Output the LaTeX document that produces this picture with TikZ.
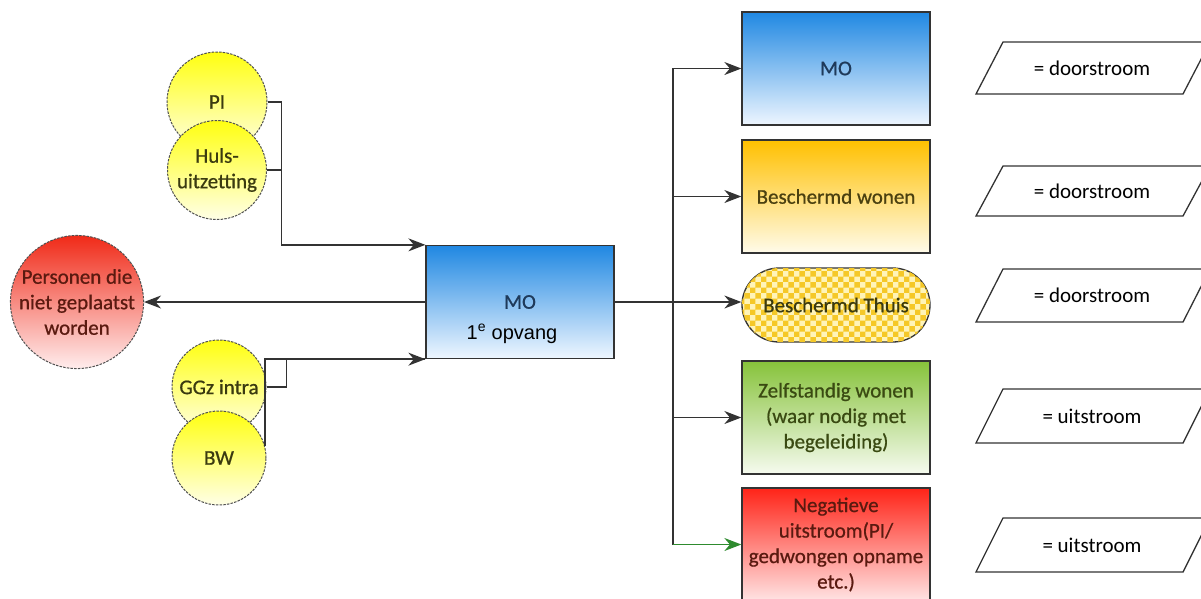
\documentclass[tikz,border=0pt]{standalone}
\usepackage{fontspec}
\setmainfont{Carlito}
\newfontfamily\heavyf{Carlito}[FakeBold=0.7]
\newfontfamily\arialf{Liberation Sans}
\usetikzlibrary{arrows.meta,patterns,calc}
\definecolor{linec}{HTML}{333333}
\definecolor{circline}{HTML}{505050}
\definecolor{bluetop}{HTML}{2088E2}
\definecolor{bluebot}{HTML}{EEF6FF}
\definecolor{goldtop}{HTML}{FFC000}
\definecolor{goldbot}{HTML}{FFFBEA}
\definecolor{greentop}{HTML}{86C23A}
\definecolor{greenbot}{HTML}{F6FBEF}
\definecolor{redtop}{HTML}{FF2418}
\definecolor{redbot}{HTML}{FFE4E4}
\definecolor{yeltop}{HTML}{FFFF10}
\definecolor{yelbot}{HTML}{FFFFE6}
\definecolor{rcirtop}{HTML}{F02A18}
\definecolor{rcirbot}{HTML}{FFEDED}
\definecolor{motext}{HTML}{1F3A5A}
\definecolor{goldtext}{HTML}{4A4010}
\definecolor{greentext}{HTML}{3A4A12}
\definecolor{redtext}{HTML}{5A1A10}
\definecolor{yeltext}{HTML}{3A3A10}
\definecolor{thuisfill}{HTML}{FFF4B8}
\definecolor{thuispat}{HTML}{F5C828}
\definecolor{greenline}{HTML}{2E8B2E}
\begin{document}
\begin{tikzpicture}[x=1pt,y=-1pt,
  base/.style={font=\fontsize{21}{25.5}\selectfont, align=center, inner sep=0pt},
  heavy/.style={font=\heavyf\fontsize{21}{25.5}\selectfont},
  box/.style={base, heavy, draw=linec, line width=1.3pt, minimum width=188pt, minimum height=113pt},
  sh/.style 2 args={top color=#1, middle color=#1!80!#2, bottom color=#2},
  circ/.style={base, heavy, circle, draw=circline, dash pattern=on 2.5pt off 1.2pt, line width=1pt},
  arr/.style={line width=1.5pt, draw=linec, -{Stealth[length=17pt,width=13pt]}},
  conn/.style={line width=1.5pt, draw=linec},
  para/.style={line width=1.3pt, draw=linec}]
\useasboundingbox (0,0) rectangle (1201,598);
\clip (0,0) rectangle (1201,598);

% left circles
\node[circ, sh={yeltop}{yelbot}, minimum size=100pt, text=yeltext] (PI) at (217,102) {PI};
\node[circ, sh={yeltop}{yelbot}, minimum size=99pt, text=yeltext] (Huls) at (217,170) {Huls-\\uitzetting};
\node[circ, sh={yeltop}{yelbot}, minimum size=94pt, text=yeltext] (GGz) at (219,387) {GGz intra};
\node[circ, sh={yeltop}{yelbot}, minimum size=94pt, text=yeltext] (BW) at (219,458) {BW};
\node[circ, sh={rcirtop}{rcirbot}, minimum size=132pt, text=redtext] (Pers) at (77,302) {Personen die\\niet geplaatst\\worden};

% central box
\node[box, sh={bluetop}{bluebot}, text=motext] (MO) at (520,302) {MO};
\node[base, font=\arialf\fontsize{20}{24}\selectfont] (opv) at (512,334) {1\textsuperscript{e} opvang};

% right boxes
\node[box, sh={bluetop}{bluebot}, text=motext] (RMO) at (836,68.5) {MO};
\node[box, sh={goldtop}{goldbot}, text=goldtext] (BWo) at (836,196.5) {Beschermd wonen};
\node[base, heavy, draw=linec, line width=1.3pt, minimum width=188pt, minimum height=74pt,
      rounded corners=37pt, fill=thuisfill, text=yeltext,
      postaction={pattern=checkerboard, pattern color=thuispat}] (Thuis) at (836,305) {Beschermd Thuis};
\node[box, sh={greentop}{greenbot}, text=greentext] (ZW) at (836,417.5) {Zelfstandig wonen\\(waar nodig met\\begeleiding)};
\node[box, sh={redtop}{redbot}, text=redtext] (NEG) at (836,544.5) {Negatieve\\uitstroom(PI/\\gedwongen opname\\etc.)};

% parallelograms
\foreach \n/\t/\b/\s in {d1/42/94/{= doorstroom}, d2/166/216/{= doorstroom}, d3/269/322/{= doorstroom}, d4/389/443/{= uitstroom}, d5/518/572/{= uitstroom}}{
  \draw[para] (976,\b) -- (1183,\b) -- (1210,\t) -- (1003,\t) -- cycle;
  \node[base] (\n) at (1092,{(\t+\b)/2}) {\s};
}

% left connectors
\draw[arr] (PI.east) -- ++(14,0) |- (MO.north west);
\draw[conn] (Huls.east) -- ++(14,0);
\draw[arr] (BW.15) |- (MO.south west);
\draw[conn] (GGz.east) -- ++(20,0) |- (MO.south west);
\draw[arr] (MO.west) -- (Pers.east);

% right connectors
\coordinate (tr) at (673,302);
\draw[arr] (MO.east) -- (MO.east -| Thuis.west);
\draw[arr] (tr) |- (RMO.west);
\draw[arr] (tr) |- (BWo.west);
\draw[arr] (tr) |- (ZW.west);
\draw[conn] (tr) -- (tr |- NEG.west);
\draw[arr, draw=greenline] (tr |- NEG.west) -- (NEG.west);
\end{tikzpicture}
\end{document}
